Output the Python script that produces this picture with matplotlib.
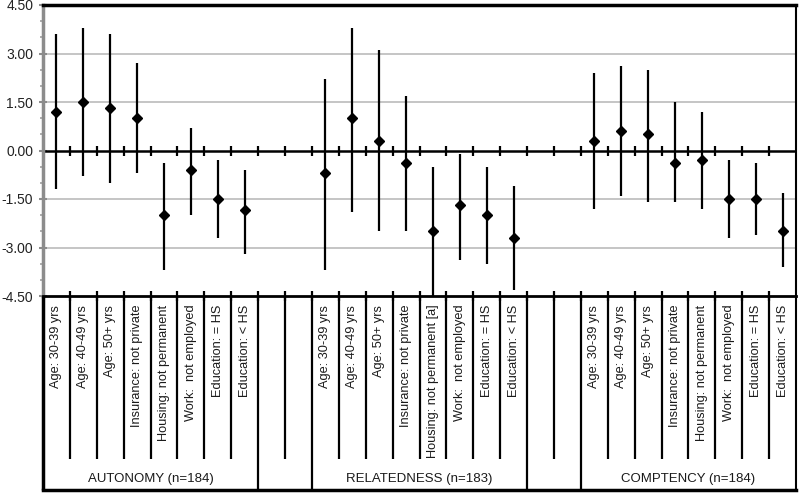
import numpy as np
import matplotlib.pyplot as plt
from matplotlib.ticker import MultipleLocator, FormatStrFormatter

# --------------------------------------------------------------
# Dane
# --------------------------------------------------------------
groups = ["AUTONOMY (n=184)", "RELATEDNESS (n=183)", "COMPTENCY (n=184)"]

labels_aut = ["Age: 30-39 yrs", "Age: 40-49 yrs", "Age: 50+ yrs", "Insurance: not private",
              "Housing: not permanent", "Work:  not employed", "Education: = HS", "Education: < HS"]
labels_rel = ["Age: 30-39 yrs", "Age: 40-49 yrs", "Age: 50+ yrs", "Insurance: not private",
              "Housing: not permanent [a]", "Work:  not employed", "Education: = HS", "Education: < HS"]
labels_com = labels_aut

aut_est = [1.2, 1.5, 1.3, 1.0, -2.0, -0.6, -1.5, -1.85]
aut_lo = [-1.2, -0.8, -1.0, -0.7, -3.7, -2.0, -2.7, -3.2]
aut_hi = [3.6, 3.8, 3.6, 2.7, -0.4, 0.7, -0.3, -0.6]

rel_est = [-0.7, 1.0, 0.3, -0.4, -2.5, -1.7, -2.0, -2.7]
rel_lo = [-3.7, -1.9, -2.5, -2.5, -4.5, -3.4, -3.5, -4.3]
rel_hi = [2.2, 3.8, 3.1, 1.7, -0.5, -0.1, -0.5, -1.1]

com_est = [0.3, 0.6, 0.5, -0.4, -0.3, -1.5, -1.5, -2.5]
com_lo = [-1.8, -1.4, -1.6, -1.6, -1.8, -2.7, -2.6, -3.6]
com_hi = [2.4, 2.6, 2.5, 1.5, 1.2, -0.3, -0.4, -1.3]

# --------------------------------------------------------------
# Układ: 8 kategorii + 2 puste + 8 + 2 puste + 8
# --------------------------------------------------------------
n_cat = 8
gap = 2
starts = [0, n_cat + gap, 2 * (n_cat + gap)]
total = starts[-1] + n_cat
series = [(aut_est, aut_lo, aut_hi, labels_aut),
          (rel_est, rel_lo, rel_hi, labels_rel),
          (com_est, com_lo, com_hi, labels_com)]

plt.rcParams['font.family'] = ['Liberation Sans', 'DejaVu Sans']

fig = plt.figure(figsize=(8, 4.99), dpi=100)
W, H = 800, 499
left, right, top, bottom = 43, 796, 5, 296
ax = fig.add_axes([left / W, 1 - bottom / H, (right - left) / W, (bottom - top) / H])

ax.set_xlim(0, total)
ax.set_ylim(-4.5, 4.5)

# siatka
for g in [-3.0, -1.5, 1.5, 3.0]:
    ax.axhline(g, color='#c0c0c0', lw=1.3, zorder=1)

# linia zero z kreskami
bounds = np.arange(1, total)
ax.axhline(0, color='black', lw=1.8, zorder=2)
ax.plot(bounds, np.zeros_like(bounds), ls='none', marker='|', ms=7, mew=1.6,
        color='black', zorder=2)

for (est, lo, hi, _), s in zip(series, starts):
    est = np.array(est)
    x = np.arange(n_cat) + s + 0.5
    yerr = [est - np.array(lo), np.array(hi) - est]
    ax.errorbar(x, est, yerr=yerr, fmt='D', color='black', ms=5.5,
                elinewidth=1.6, capsize=0, zorder=3)

# osie
ax.yaxis.set_major_locator(MultipleLocator(1.5))
ax.yaxis.set_minor_locator(MultipleLocator(0.5))
ax.yaxis.set_major_formatter(FormatStrFormatter('%.2f'))
ax.tick_params(axis='y', which='major', direction='inout', length=6, width=1.5,
               color='#8c8c8c', labelsize=10, pad=4, labelcolor='#222222')
ax.tick_params(axis='y', which='minor', direction='out', length=2.5, width=1.2,
               color='#a0a0a0')
ax.set_xticks(bounds)
ax.tick_params(axis='x', direction='inout', length=7, width=1.6, color='black',
               labelbottom=False)

ax.spines['left'].set_color('#8c8c8c')
ax.spines['left'].set_linewidth(2.5)
ax.spines['top'].set_linewidth(2.5)
ax.spines['bottom'].set_linewidth(2.0)
ax.spines['right'].set_linewidth(1.5)

# --------------------------------------------------------------
# Tabela kategorii pod wykresem
# --------------------------------------------------------------
tab_bottom = 490
tax = fig.add_axes([left / W, 1 - tab_bottom / H, (right - left) / W,
                    (tab_bottom - bottom) / H])
tax.set_xlim(0, total)
tax.set_ylim(0, 1)
tax.axis('off')

group_edges = [0, total]
for s in starts:
    group_edges += [s, s + n_cat]
group_edges = sorted(set(group_edges))
inner_end = 0.16

for b in range(0, total + 1):
    if b in group_edges:
        lw = 2.5 if b == 0 else (1.5 if b == total else 1.6)
        tax.plot([b, b], [0, 1], color='black', lw=lw, clip_on=False,
                 solid_capstyle='butt')
    else:
        tax.plot([b, b], [inner_end, 1], color='black', lw=1.6, clip_on=False,
                 solid_capstyle='butt')
tax.plot([0, total], [0, 0], color='black', lw=2.5, clip_on=False)

for (_, _, _, labs), s, gname in zip(series, starts, groups):
    for i, lab in enumerate(labs):
        tax.text(s + i + 0.5, 0.955, lab, rotation=90, ha='center', va='top',
                 fontsize=9.2, color='#1a1a1a')
    tax.text(s + n_cat / 2, 0.055, gname, ha='center', va='center',
             fontsize=9.5, color='#1a1a1a')

fig.savefig('out.png', dpi=100)
